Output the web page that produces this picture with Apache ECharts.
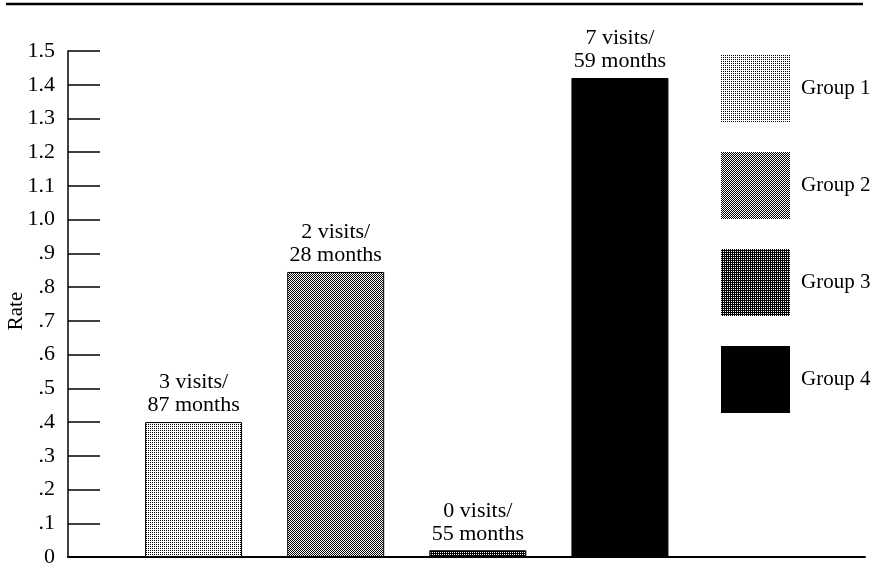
<!DOCTYPE html>
<html>
<head>
<meta charset="utf-8">
<script src="https://cdn.jsdelivr.net/npm/echarts@6/dist/echarts.min.js"></script>
<style>
html,body{margin:0;padding:0;background:#fff;}
#chart{width:894px;height:580px;}
</style>
</head>
<body>
<div id="chart"></div>
<script>
var groups = ['Group 1', 'Group 2', 'Group 3', 'Group 4'];
var rates = [0.40, 0.845, 0.02, 1.42];
var barLabels = ['3 visits/\n87 months', '2 visits/\n28 months', '0 visits/\n55 months', '7 visits/\n59 months'];
var yAxisName = 'Rate';
var yMin = 0, yMax = 1.5, yStep = 0.1;

function makePattern(kind) {
  var c = document.createElement('canvas');
  c.width = 4; c.height = 4;
  var ctx = c.getContext('2d');
  ctx.fillStyle = '#fff';
  ctx.fillRect(0, 0, 4, 4);
  ctx.fillStyle = '#000';
  for (var y = 0; y < 4; y++) {
    for (var x = 0; x < 4; x++) {
      var on = false;
      if (kind === 1) on = ((x + y) % 2 === 0) && (y % 2 === 0);
      else if (kind === 2) on = ((x + y) % 2 === 0);
      else if (kind === 3) on = !(((x + y) % 2 === 0) && (y % 2 === 0));
      if (on) ctx.fillRect(x, y, 1, 1);
    }
  }
  return {image: c, repeat: 'repeat'};
}
var fills = [makePattern(1), makePattern(2), makePattern(3), '#000'];

var serif = 'Liberation Serif, Times New Roman, serif';
var chart = echarts.init(document.getElementById('chart'), null, {renderer: 'canvas'});

var series = groups.map(function (g, i) {
  var data = groups.map(function (_, j) { return j === i ? rates[j] : '-'; });
  return {
    name: g,
    type: 'bar',
    xAxisIndex: 1,
    yAxisIndex: 1,
    barWidth: 97,
    barGap: '-100%',
    data: data,
    itemStyle: {color: fills[i], borderColor: '#000', borderWidth: 1},
    label: {
      show: true,
      position: 'top',
      distance: 5,
      formatter: function () { return barLabels[i]; },
      fontFamily: serif,
      fontSize: 22,
      lineHeight: 23,
      color: '#000',
      align: 'center'
    },
    emphasis: {disabled: true}
  };
});

var gridBase = {top: 51, bottom: 23, containLabel: false, outerBoundsMode: 'none'};
var option = {
  backgroundColor: '#fff',
  animation: false,
  legend: {
    orient: 'vertical',
    left: 716,
    top: 50,
    itemWidth: 69,
    itemHeight: 67,
    itemGap: 30,
    icon: 'rect',
    textStyle: {fontFamily: serif, fontSize: 21, color: '#000', padding: [0, 0, 0, 6]},
    data: groups.map(function (g) {
      return {name: g, itemStyle: {borderWidth: 0}};
    }),
    selectedMode: false
  },
  grid: [
    Object.assign({left: 68, right: 29}, gridBase),
    Object.assign({left: 122.5, right: 203}, gridBase)
  ],
  xAxis: [
    {
      type: 'category', gridIndex: 0, data: [''],
      axisLine: {show: true, lineStyle: {color: '#000', width: 2}},
      axisTick: {show: false}, axisLabel: {show: false}, splitLine: {show: false}
    },
    {
      type: 'category', gridIndex: 1, data: groups,
      axisLine: {show: false}, axisTick: {show: false}, axisLabel: {show: false}
    }
  ],
  yAxis: [
    {
      type: 'value', gridIndex: 0, min: yMin, max: yMax, interval: yStep,
      axisLine: {show: true, lineStyle: {color: '#000', width: 1.5}},
      axisTick: {show: true, inside: true, length: 32, lineStyle: {color: '#000', width: 1.5}},
      axisLabel: {
        fontFamily: serif, fontSize: 22, color: '#000', margin: 13,
        formatter: function (v) {
          var r = Math.round(v * 10) / 10;
          if (r === 0) return '0';
          if (r < 1) return '.' + Math.round(r * 10);
          return r.toFixed(1);
        }
      },
      splitLine: {show: false}
    },
    {
      type: 'value', gridIndex: 1, min: yMin, max: yMax, interval: yStep, show: false
    }
  ],
  graphic: [
    {type: 'line', shape: {x1: 6, y1: 4, x2: 863, y2: 4}, style: {stroke: '#000', lineWidth: 2.5}},
    {
      type: 'text', x: 16, y: 311, rotation: Math.PI / 2,
      style: {text: yAxisName, fontFamily: serif, fontSize: 21, fill: '#000', align: 'center', verticalAlign: 'middle'}
    }
  ],
  series: series
};
chart.setOption(option);
</script>
</body>
</html>
